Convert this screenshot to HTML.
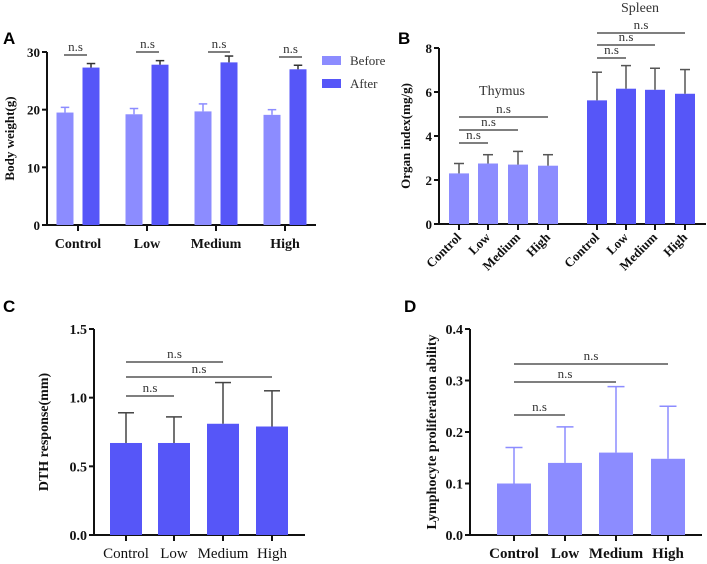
<!DOCTYPE html>
<html><head><meta charset="utf-8"><style>
body{margin:0;background:#fff}
svg{display:block;font-family:"Liberation Serif",serif}
.t{font-size:13px;font-weight:bold;fill:#111}
.ns{font-size:13px;fill:#333}
.p{font-family:"Liberation Sans",sans-serif;font-size:17px;font-weight:bold}
</style></head><body>
<svg id="s" width="707" height="564">
<text class="p" x="3" y="44">A</text>
<text class="p" x="398" y="44">B</text>
<text class="p" x="3" y="312">C</text>
<text class="p" x="404" y="312">D</text>
</svg>
<script>
const A_cats=["Control","Low","Medium","High"];
const A_before=[19.5,19.2,19.7,19.1];
const A_beforeErr=[20.4,20.2,21.0,20.0];
const A_after=[27.3,27.8,28.2,27.0];
const A_afterErr=[28.0,28.5,29.3,27.7];
const A_ticks=[0,10,20,30];
const B_cats=["Control","Low","Medium","High"];
const B_thymus=[2.3,2.75,2.7,2.65];
const B_thymusErr=[2.75,3.15,3.3,3.15];
const B_spleen=[5.62,6.15,6.1,5.92];
const B_spleenErr=[6.9,7.2,7.08,7.02];
const B_ticks=[0,2,4,6,8];
const C_vals=[0.67,0.67,0.81,0.79];
const C_err=[0.89,0.86,1.11,1.05];
const C_ticks=["0.0","0.5","1.0","1.5"];
const D_vals=[0.1,0.14,0.16,0.148];
const D_err=[0.17,0.21,0.288,0.25];
const D_ticks=["0.0","0.1","0.2","0.3","0.4"];
const LIGHT="#8c8cff",DARK="#5656f8";
const svg=document.getElementById('s');const NS="http://www.w3.org/2000/svg";
function mk(tag,at,txt){const e=document.createElementNS(NS,tag);for(const k in at)e.setAttribute(k,at[k]);if(txt!==undefined)e.textContent=txt;svg.appendChild(e);return e;}
function line(x1,y1,x2,y2,c,w,name){const e=mk('line',{x1,y1,x2,y2,stroke:c,'stroke-width':w});

return e;}
function text(x,y,s,cls,anchor,name,extra){const e=mk('text',Object.assign({x,y,class:cls,'text-anchor':anchor||'middle'},extra||{}),s);

return e;}
function bar(cx,w,v,e,y,col,ecol,name){const r=mk('rect',{x:cx-w/2,y:y(v),width:w,height:y(0)-y(v),fill:col});


line(cx,y(v),cx,y(e),ecol,1.5,name+'-error');line(cx-w/4,y(e),cx+w/4,y(e),ecol,1.5,name+'-error-cap');}
function axes(x0,x1,y,ticks,lab,labx,prefix,fs){const yt=y(0),ytop=y(+ticks[ticks.length-1]);
line(x0,ytop,x0,yt+1,'#111',2,prefix+'-y-axis');line(x0-1,yt,x1,yt,'#111',2,prefix+'-x-axis');
ticks.forEach(t=>{line(x0-5,y(+t),x0,y(+t),'#111',2,prefix+'-y-tick');text(x0-7,y(+t)+5,t,'t','end',prefix+'-y-tick-label',fs?{style:'font-size:'+fs+'px'}:{});});
const cy=(yt+ytop)/2;text(labx,cy,lab,'t','middle',prefix+'-y-axis-title',{transform:`rotate(-90 ${labx} ${cy})`,style:fs?'font-size:'+fs+'px':''});}
function ns(x1,x2,yy,name){line(x1,yy,x2,yy,'#555',1.5,name);text((x1+x2)/2,yy-4,'n.s','ns','middle',name+'-label');}
// A
{const y=v=>225-v*(173/30);axes(47,316,y,A_ticks,'Body weight(g)',14,'a');
const tk=[78,147,216,285];
A_cats.forEach((c,i)=>{const x=tk[i];bar(x-13,17,A_before[i],A_beforeErr[i],y,LIGHT,LIGHT,'a-bar-before-'+c.toLowerCase());
bar(x+13,17,A_after[i],A_afterErr[i],y,DARK,'#333','a-bar-after-'+c.toLowerCase());
line(x,225,x,231,'#111',2,'a-x-tick');text(x,248,c,'t','middle','a-x-label',{style:'font-size:14px'});});
ns(64,87,55,'a-ns-control');ns(136,159,52,'a-ns-low');ns(208,230,52,'a-ns-medium');ns(279,302,57,'a-ns-high');
mk('rect',{x:322,y:56,width:19,height:9,fill:LIGHT,});
mk('rect',{x:322,y:79,width:19,height:9,fill:DARK,});
text(350,65,'Before','ns','start','legend-before');text(350,88,'After','ns','start','legend-after');}
// B
{const y=v=>224-v*22;axes(439,706,y,B_ticks,'Organ index(mg/g)',410,'b');
const t1=[459,488,518,548],t2=[597,626,655,685];
B_cats.forEach((c,i)=>{bar(t1[i],20,B_thymus[i],B_thymusErr[i],y,LIGHT,'#555','b-bar-thymus-'+c.toLowerCase());
bar(t2[i],20,B_spleen[i],B_spleenErr[i],y,DARK,'#555','b-bar-spleen-'+c.toLowerCase());
[t1[i],t2[i]].forEach(x=>{line(x,224,x,230,'#111',2,'b-x-tick');text(x+3,238,c,'t','end','b-x-label',{transform:`rotate(-45 ${x+3} 238)`});});});
text(502,95,'Thymus','ns','middle','thymus-label',{style:'font-size:14px'});text(640,12,'Spleen','ns','middle','spleen-label',{style:'font-size:14px'});
ns(459,488,143,'b-ns-thymus-low');ns(459,518,130,'b-ns-thymus-medium');ns(459,548,117,'b-ns-thymus-high');
ns(597,626,58,'b-ns-spleen-low');ns(597,655,45,'b-ns-spleen-medium');ns(597,685,33,'b-ns-spleen-high');}
// C
{const y=v=>535-v*(206/1.5);axes(94,305,y,C_ticks,'DTH response(mm)',48,'c',14);
const tk=[126,174,223,272];
A_cats.forEach((c,i)=>{bar(tk[i],32,C_vals[i],C_err[i],y,DARK,'#444','c-bar-'+c.toLowerCase());
line(tk[i],535,tk[i],541,'#111',2,'c-x-tick');text(tk[i],558,c,'t','middle','c-x-label',{style:'font-weight:normal;font-size:15px'});});
ns(126,174,396,'c-ns-low');ns(126,272,377,'c-ns-high');ns(126,223,362,'c-ns-medium');}
// D
{const y=v=>535-v*(206/0.4);axes(470,702,y,D_ticks,'Lymphocyte proliferation ability',436,'d',14);
const tk=[514,565,616,668];
A_cats.forEach((c,i)=>{bar(tk[i],34,D_vals[i],D_err[i],y,LIGHT,LIGHT,'d-bar-'+c.toLowerCase());
line(tk[i],535,tk[i],541,'#111',2,'d-x-tick');text(tk[i],558,c,'t','middle','d-x-label',{style:'font-size:15px'});});
ns(514,565,415,'d-ns-low');ns(514,616,382,'d-ns-medium');ns(514,668,364,'d-ns-high');}
</script>
</body></html>
